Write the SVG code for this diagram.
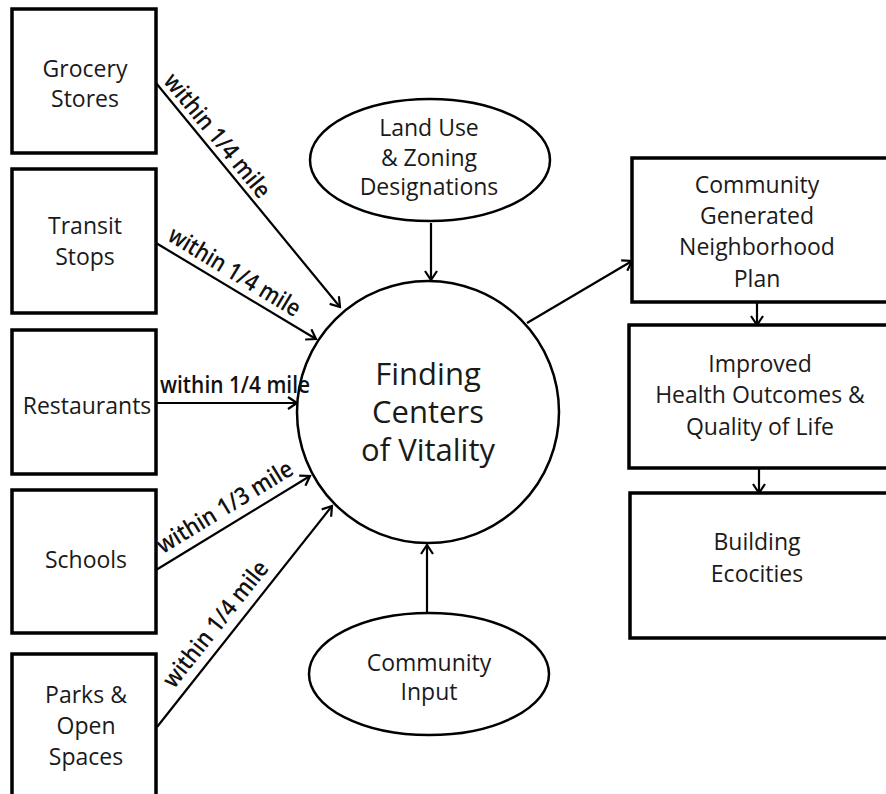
<svg xmlns="http://www.w3.org/2000/svg" width="886" height="794" viewBox="0 0 886 794">
<style>
.box{fill:#fff;stroke:#000;stroke-width:3.5}
.ell{fill:#fff;stroke:#000;stroke-width:2.5}
.t{font-family:"Open Sans","Noto Sans",sans-serif;font-size:23px;fill:#1a1a1a;text-anchor:middle}
.big{font-size:31px}
.lab{font-family:"Open Sans","Noto Sans",sans-serif;font-size:24px;font-weight:600;fill:#111;text-anchor:start}
.c{fill:none;stroke:#000;stroke-width:2.2;marker-end:url(#ah)}
</style>
<defs>
<marker id="ah" viewBox="-11 -7 13 14" refX="0" refY="0" markerWidth="13" markerHeight="14" markerUnits="userSpaceOnUse" orient="auto">
<path d="M-9,-6 L0,0 L-9,6" fill="none" stroke="#000" stroke-width="2.2"/>
</marker>
</defs>
<rect width="886" height="794" fill="#fff"/>
<g id="connectors">
<line class="c" x1="156" y1="83" x2="340" y2="307"/>
<line class="c" x1="156" y1="243" x2="316" y2="339"/>
<line class="c" x1="156" y1="403" x2="297" y2="403"/>
<line class="c" x1="156" y1="570" x2="310" y2="476"/>
<line class="c" x1="157" y1="727" x2="332" y2="506"/>
<line class="c" x1="431" y1="223" x2="431" y2="280"/>
<line class="c" x1="427" y1="613" x2="427" y2="545"/>
<line class="c" x1="527" y1="323" x2="632" y2="261"/>
<line class="c" x1="757" y1="303" x2="757" y2="325"/>
<line class="c" x1="759" y1="469" x2="759" y2="493"/>
</g>
<g id="grocery">
<rect class="box" x="12" y="9" width="144" height="144"/>
<text class="t" x="85" y="77">Grocery</text>
<text class="t" x="85" y="107">Stores</text>
</g>
<g id="transit">
<rect class="box" x="12" y="169" width="144" height="144"/>
<text class="t" x="85" y="234">Transit</text>
<text class="t" x="85" y="265">Stops</text>
</g>
<g id="restaurants">
<rect class="box" x="12" y="330" width="144" height="144"/>
<text class="t" x="87" y="414">Restaurants</text>
</g>
<g id="schools">
<rect class="box" x="12" y="490" width="144" height="143"/>
<text class="t" x="86" y="568">Schools</text>
</g>
<g id="parks">
<rect class="box" x="12" y="654" width="144" height="160"/>
<text class="t" x="86" y="703">Parks &amp;</text>
<text class="t" x="86" y="734">Open</text>
<text class="t" x="86" y="765">Spaces</text>
</g>
<g id="landuse">
<ellipse class="ell" cx="430" cy="160" rx="120" ry="61"/>
<text class="t" x="429" y="136">Land Use</text>
<text class="t" x="429" y="166">&amp; Zoning</text>
<text class="t" x="429" y="195">Designations</text>
</g>
<g id="center">
<circle class="ell" cx="428" cy="412" r="131"/>
<text class="t big" x="428" y="385">Finding</text>
<text class="t big" x="428" y="423">Centers</text>
<text class="t big" x="428" y="461">of Vitality</text>
</g>
<g id="community-input">
<ellipse class="ell" cx="429" cy="674" rx="120" ry="61"/>
<text class="t" x="429" y="671">Community</text>
<text class="t" x="429" y="700">Input</text>
</g>
<g id="plan">
<rect class="box" x="632" y="158" width="270" height="144"/>
<text class="t" x="757" y="193">Community</text>
<text class="t" x="757" y="224">Generated</text>
<text class="t" x="757" y="255">Neighborhood</text>
<text class="t" x="757" y="287">Plan</text>
</g>
<g id="health">
<rect class="box" x="629" y="325" width="273" height="143"/>
<text class="t" x="760" y="372">Improved</text>
<text class="t" x="760" y="403">Health Outcomes &amp;</text>
<text class="t" x="760" y="435">Quality of Life</text>
</g>
<g id="ecocities">
<rect class="box" x="630" y="493" width="272" height="145"/>
<text class="t" x="757" y="550">Building</text>
<text class="t" x="757" y="582">Ecocities</text>
</g>
<g id="connector-labels">
<text class="lab" transform="translate(156,83) rotate(50.7)" x="3" y="-6" textLength="153" lengthAdjust="spacingAndGlyphs">within 1/4 mile</text>
<text class="lab" transform="translate(156,243) rotate(31.2)" x="7" y="-8" textLength="150" lengthAdjust="spacingAndGlyphs">within 1/4 mile</text>
<text class="lab" x="160" y="393" textLength="150" lengthAdjust="spacingAndGlyphs">within 1/4 mile</text>
<text class="lab" transform="translate(156,570) rotate(-31.4)" x="14" y="-10" textLength="155" lengthAdjust="spacingAndGlyphs">within 1/3 mile</text>
<text class="lab" transform="translate(157,727) rotate(-51.6)" x="40" y="-10" textLength="154" lengthAdjust="spacingAndGlyphs">within 1/4 mile</text>
</g>
</svg>
